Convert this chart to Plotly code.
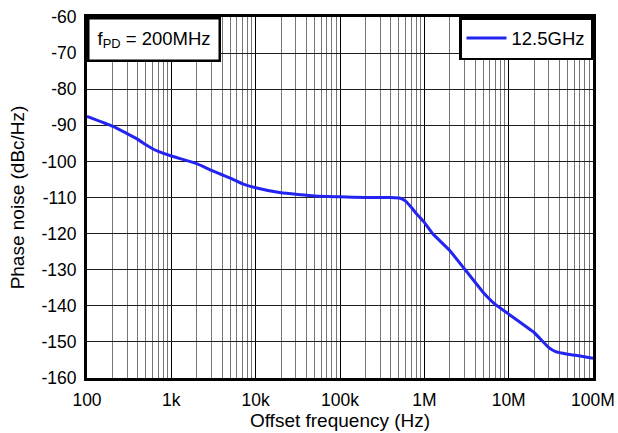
import plotly.graph_objects as go

freq = [100, 200, 300, 400, 500, 600, 700, 1e3, 2e3, 3e3, 4e3, 5e3, 7e3, 1e4, 2e4, 5e4,
        1e5, 2e5, 4e5, 5.2e5, 6e5, 7e5, 8e5, 1e6, 1.25e6, 2e6, 3e6, 5e6, 7e6, 1e7,
        2e7, 3e7, 3.6e7, 5e7, 7e7, 1e8]
noise = [-87.5, -90.2, -92.3, -93.9, -95.4, -96.5, -97.2, -98.5, -100.6, -102.5, -103.7, -104.6,
         -106.2, -107.3, -108.7, -109.6, -109.8, -110.0, -110.0, -110.2, -111.0, -112.7, -114.4,
         -116.9, -120.0, -124.7, -129.8, -136.3, -139.7, -142.3, -147.4, -151.6, -152.7,
         -153.4, -153.9, -154.5]

tick_vals = [1e2, 1e3, 1e4, 1e5, 1e6, 1e7, 1e8]
tick_text = ["100", "1k", "10k", "100k", "1M", "10M", "100M"]
y_ticks = list(range(-160, -59, 10))
y_text = [str(v) for v in y_ticks]

fig = go.Figure()
fig.add_trace(go.Scatter(x=freq, y=noise, mode="lines", name="12.5GHz",
                         line=dict(color="#2424f2", width=3, shape="spline", smoothing=0.3)))

font = "Liberation Sans, Arial, sans-serif"
fig.update_layout(
    width=618, height=433,
    margin=dict(l=87, r=25, t=17, b=55),
    paper_bgcolor="white", plot_bgcolor="white",
    font=dict(family=font, size=17.5, color="black"),
    showlegend=True,
    legend=dict(x=1, y=1, xanchor="right", yanchor="top", bgcolor="white",
                bordercolor="black", borderwidth=2.5, font=dict(size=18.5),
                itemwidth=40, tracegroupgap=0),
    xaxis=dict(type="log", range=[2, 8], tickvals=tick_vals, ticktext=tick_text,
               automargin=False,
               showgrid=True, gridcolor="black", gridwidth=1,
               minor=dict(showgrid=True, gridcolor="#767676", gridwidth=1, dtick="D1"),
               showline=True, linecolor="black", linewidth=3, mirror=True,
               ticks="", tickfont=dict(size=17.5), ticklabelstandoff=4,
               title=dict(text="Offset frequency (Hz)", font=dict(size=19), standoff=3)),
    yaxis=dict(range=[-160, -60], tickvals=y_ticks, ticktext=y_text, showgrid=True,
               automargin=False,
               gridcolor="#1e1e1e", gridwidth=1,
               showline=True, linecolor="black", linewidth=3, mirror=True,
               ticks="", tickfont=dict(size=17.5), zeroline=False, ticklabelstandoff=4,
               title=dict(text="Phase noise (dBc/Hz)", font=dict(size=19), standoff=12)),
)
fig.add_annotation(x=0, y=1, xref="paper", yref="paper", xanchor="left", yanchor="top",
                   text="f<sub>PD</sub> = 200MHz", showarrow=False, align="left",
                   font=dict(size=18.5), bgcolor="white", bordercolor="black", borderwidth=2.5,
                   borderpad=8)
fig.write_html(
    "out.html",
    config={"displayModeBar": False, "staticPlot": True},
    post_script=(
        "var s=document.createElement('style');"
        "s.textContent='html,body{margin:0;padding:0;width:618px;height:433px;overflow:hidden;}';"
        "document.head.appendChild(s);"
    ),
)
